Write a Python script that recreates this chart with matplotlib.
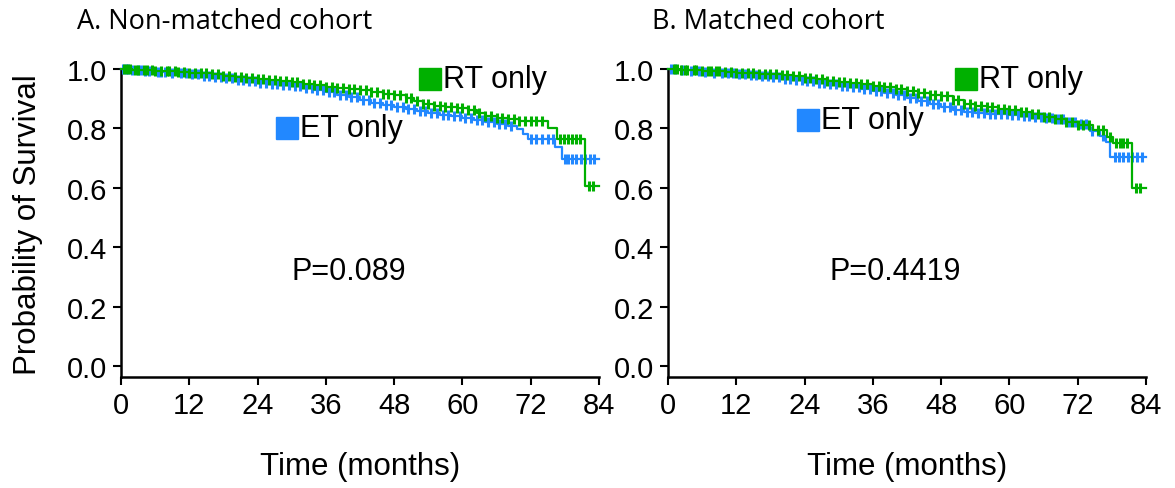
import numpy as np
import matplotlib
matplotlib.use("Agg")
import matplotlib.pyplot as plt

plt.rcParams["font.family"] = ["Liberation Sans", "DejaVu Sans"]

green = "#00b000"
blue = "#2288ff"

# ---- A. non-matched cohort: KM step knots (month, survival) ----
a_rt_time = [0, 2, 4, 6, 8, 10, 12, 14, 16, 18, 20, 22, 24, 26, 28, 30, 32, 34, 36, 38,
             40, 42, 44, 46, 48, 50, 51.5, 53, 55, 57, 59, 61, 62.5, 64, 66, 68, 70, 75,
             76.6, 81.5]
a_rt_surv = [1.000, 0.998, 0.996, 0.994, 0.992, 0.990, 0.988, 0.985, 0.982, 0.978, 0.974,
             0.970, 0.966, 0.962, 0.958, 0.955, 0.951, 0.946, 0.941, 0.936, 0.932, 0.928,
             0.923, 0.917, 0.911, 0.902, 0.892, 0.883, 0.877, 0.873, 0.868, 0.863, 0.852,
             0.842, 0.836, 0.830, 0.825, 0.800, 0.764, 0.606]
a_rt_censor = [0.5, 1, 1.5, 2.5, 3, 4, 4.5, 5.5, 6, 7, 8, 8.5, 9.5, 10, 11, 12, 13, 14, 15,
               16, 17, 18, 19, 20, 21, 22, 23, 24, 25, 26, 27, 28, 29, 30, 31, 32, 33, 34,
               35, 36, 37, 38, 39, 40, 41, 42, 43, 44, 45, 46, 47, 48, 49, 50, 51, 52, 53,
               54, 55, 56, 57, 58, 59, 60, 61, 62, 63, 64, 65, 66, 67, 68, 69, 70, 71, 72,
               73, 74, 77.2, 77.8, 78.5, 79.3, 80, 80.6, 82.2, 83]
a_et_time = [0, 2, 4, 6, 8, 10, 12, 14, 16, 18, 20, 22, 24, 26, 28, 30, 32, 34, 36, 38,
             40, 42, 44, 46, 48, 50, 52, 54, 56, 58, 60, 62, 64, 66, 68, 69.6, 70.6, 71.5,
             76.3, 77.5]
a_et_surv = [1.000, 0.997, 0.994, 0.991, 0.988, 0.985, 0.982, 0.978, 0.974, 0.969, 0.964,
             0.959, 0.954, 0.950, 0.946, 0.942, 0.937, 0.930, 0.922, 0.913, 0.905, 0.896,
             0.887, 0.879, 0.872, 0.864, 0.857, 0.851, 0.846, 0.841, 0.835, 0.829, 0.822,
             0.815, 0.808, 0.798, 0.781, 0.764, 0.737, 0.697]
a_et_censor = [0.3, 0.8, 1.2, 2, 3, 3.5, 4.2, 5, 6.5, 7, 7.8, 9, 10.5, 11.5, 12.5, 13.5,
               14.5, 15.5, 16.5, 17.5, 18.5, 19.5, 20.5, 21.5, 22.5, 23.5, 24.5, 25.5,
               26.5, 27.5, 28.5, 29.5, 30.5, 31.5, 32.5, 33.5, 34.5, 35.5, 36.5, 37.5,
               38.5, 39.5, 40.5, 41.5, 42.5, 43.5, 44.5, 45.5, 46.5, 47.5, 48.5, 49.5,
               50.5, 51.5, 52.5, 53.5, 54.5, 55.5, 56.5, 57.5, 58.5, 59.5, 60.5, 61.5,
               62.5, 63.5, 64.5, 65.5, 66.5, 67.5, 68.5, 72, 73, 74, 75, 76, 78, 78.6,
               79.2, 80, 80.8, 81.6, 82.4, 83.2]

# ---- B. matched cohort ----
b_rt_time = [0, 2, 4, 6, 8, 10, 12, 14, 16, 18, 20, 22, 24, 26, 28, 30, 32, 34, 36, 38,
             40, 42, 44, 46, 48, 50, 52, 54, 56, 58, 60, 62, 64, 66, 68, 70, 72, 74.7,
             77.1, 78.2, 81.5]
b_rt_surv = [1.000, 0.998, 0.996, 0.994, 0.992, 0.990, 0.988, 0.986, 0.984, 0.982, 0.979,
             0.975, 0.970, 0.965, 0.960, 0.956, 0.952, 0.948, 0.944, 0.938, 0.932, 0.926,
             0.920, 0.914, 0.909, 0.897, 0.882, 0.876, 0.871, 0.866, 0.861, 0.855, 0.848,
             0.840, 0.832, 0.823, 0.813, 0.795, 0.771, 0.750, 0.600]
b_rt_censor = [1, 1.5, 2.2, 3, 3.4, 4.5, 5, 6, 7, 7.5, 8.5, 9, 10, 11, 12, 13, 14, 15, 16,
               17, 18, 19, 20, 21, 22, 23, 24, 25, 26, 27, 28, 29, 30, 31, 32, 33, 34, 35,
               36, 37, 38, 39, 40, 41, 42, 43, 44, 45, 46, 47, 48, 49, 50, 51, 52, 53, 54,
               55, 56, 57, 58, 59, 60, 61, 62, 63, 64, 65, 66, 67, 68, 69, 70, 71, 72, 73,
               74, 75.5, 76.5, 77.6, 78.8, 79.4, 80, 80.7, 82.3, 83]
b_et_time = [0, 2, 4, 6, 8, 10, 12, 14, 16, 18, 20, 22, 24, 26, 28, 30, 32, 34, 36, 38,
             40, 42, 44, 46, 48, 50, 52, 54, 56, 58, 60, 62, 64, 66, 68, 70, 72, 74.1, 76,
             77, 77.7]
b_et_surv = [1.000, 0.997, 0.994, 0.991, 0.988, 0.985, 0.982, 0.979, 0.976, 0.972, 0.968,
             0.963, 0.958, 0.953, 0.948, 0.943, 0.938, 0.932, 0.926, 0.919, 0.911, 0.902,
             0.893, 0.883, 0.873, 0.863, 0.856, 0.852, 0.849, 0.847, 0.845, 0.843, 0.840,
             0.836, 0.830, 0.823, 0.816, 0.790, 0.774, 0.754, 0.704]
b_et_censor = [0.5, 1.2, 2.5, 4, 5.5, 6.5, 8, 9.5, 10.5, 11.5, 12.5, 13.5, 14.5, 15.5,
               16.5, 17.5, 18.5, 19.5, 20.5, 21.5, 22.5, 23.5, 24.5, 25.5, 26.5, 27.5,
               28.5, 29.5, 30.5, 31.5, 32.5, 33.5, 34.5, 35.5, 36.5, 37.5, 38.5, 39.5,
               40.5, 41.5, 42.5, 43.5, 44.5, 45.5, 46.5, 47.5, 48.5, 49.5, 50.5, 51.5,
               52.5, 53.5, 54.5, 55.5, 56.5, 57.5, 58.5, 59.5, 60.5, 61.5, 62.5, 63.5,
               64.5, 65.5, 66.5, 67.5, 68.5, 69.5, 70.5, 71.5, 72.5, 73.5, 74.5, 75.5,
               76.5, 78.5, 79.3, 80, 80.8, 81.5, 82.4, 83.3]

end_time = 84
x_ticks = [0, 12, 24, 36, 48, 60, 72, 84]
y_ticks = [0.0, 0.2, 0.4, 0.6, 0.8, 1.0]

panels = [
    dict(title="A. Non-matched cohort", p="P=0.089",
         rt=(a_rt_time, a_rt_surv, a_rt_censor), et=(a_et_time, a_et_surv, a_et_censor),
         rt_key=(54.3, 0.966), et_key=(29.2, 0.801)),
    dict(title="B. Matched cohort", p="P=0.4419",
         rt=(b_rt_time, b_rt_surv, b_rt_censor), et=(b_et_time, b_et_surv, b_et_censor),
         rt_key=(52.4, 0.966), et_key=(24.6, 0.828)),
]


def km(ax, data, color):
    t, s, c = data
    tt = list(t) + [end_time]
    ss = list(s) + [s[-1]]
    ax.step(tt, ss, where="post", color=color, lw=1.6, clip_on=False, zorder=3)
    idx = np.searchsorted(t, c, side="right") - 1
    cy = np.asarray(s)[idx]
    ax.plot(c, cy, ls="none", marker="|", ms=7, mew=2.2, color=color,
            clip_on=False, zorder=3)


fig = plt.figure(figsize=(11.75, 4.89), dpi=100)
lefts = [121 / 1175, 668 / 1175]
title_x = [77 / 1175, 652 / 1175]

for i, pn in enumerate(panels):
    ax = fig.add_axes([lefts[i], 111 / 489, 478 / 1175, 308 / 489])
    km(ax, pn["et"], blue)
    km(ax, pn["rt"], green)
    ax.set_xlim(0, 84)
    ax.set_ylim(-0.037, 1.0)
    ax.set_xticks(x_ticks)
    ax.set_yticks(y_ticks)
    ax.set_yticklabels(["%.1f" % v for v in y_ticks])
    for sp in ["top", "right"]:
        ax.spines[sp].set_visible(False)
    for sp in ["left", "bottom"]:
        ax.spines[sp].set_linewidth(1.8)
    ax.tick_params(length=6, width=1.5, labelsize=21, pad=4, color="black")

    # key squares + labels
    kx, ky = pn["rt_key"]
    ax.plot([kx], [ky], marker="s", ms=16, color=green, ls="none", clip_on=False)
    ax.text(kx + 2.2, ky, "RT only", fontsize=22, va="center", ha="left")
    kx, ky = pn["et_key"]
    ax.plot([kx], [ky], marker="s", ms=16, color=blue, ls="none", clip_on=False)
    ax.text(kx + 2.2, ky, "ET only", fontsize=22, va="center", ha="left")

    ax.text(40, 0.32, pn["p"], fontsize=22, ha="center", va="center")

    fig.text(lefts[i] + 239 / 1175, 1 - 467 / 489, "Time (months)", fontsize=22.5,
             ha="center", va="center")
    fig.text(title_x[i], 1 - 22 / 489, pn["title"], fontsize=19.5,
             family=["Open Sans", "DejaVu Sans"], ha="left", va="center")

fig.text(28 / 1175, 1 - 225 / 489, "Probability of Survival", fontsize=22.5,
         rotation=90, ha="center", va="center")

fig.savefig("out.png", dpi=100)
